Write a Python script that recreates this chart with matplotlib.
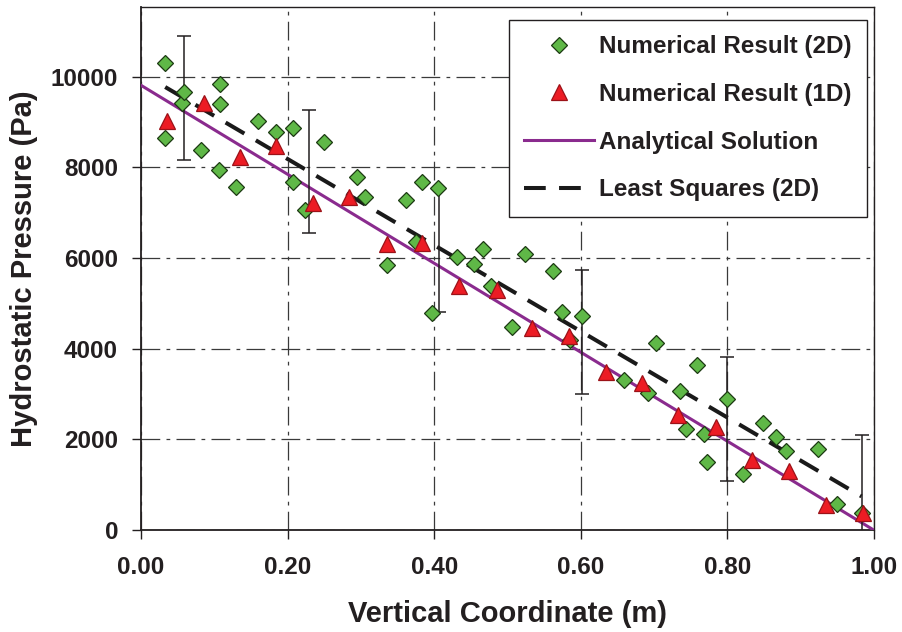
import matplotlib
matplotlib.use("Agg")
import matplotlib.pyplot as plt
from matplotlib.ticker import FixedLocator, FormatStrFormatter

# numerical result, 2D model
x_2d = [0.033, 0.033, 0.056, 0.058, 0.082, 0.106, 0.108, 0.108, 0.129, 0.159,
        0.184, 0.208, 0.208, 0.224, 0.249, 0.295, 0.305, 0.336, 0.362, 0.375,
        0.384, 0.397, 0.405, 0.431, 0.454, 0.466, 0.478, 0.506, 0.524, 0.562,
        0.575, 0.585, 0.601, 0.659, 0.691, 0.702, 0.736, 0.744, 0.758, 0.768,
        0.772, 0.800, 0.821, 0.849, 0.866, 0.880, 0.924, 0.949, 0.983]
p_2d = [10310, 8655, 9410, 9670, 8385, 7945, 9830, 9390, 7575, 9030,
        8775, 8860, 7685, 7060, 8555, 7795, 7355, 5850, 7280, 6360,
        7685, 4785, 7555, 6030, 5865, 6205, 5385, 4485, 6090, 5720,
        4820, 4195, 4725, 3310, 3030, 4135, 3070, 2225, 3645, 2120,
        1510, 2895, 1240, 2370, 2060, 1755, 1785, 580, 385]

# numerical result, 1D model
x_1d = [0.035, 0.086, 0.135, 0.184, 0.235, 0.284, 0.336, 0.384, 0.434, 0.486,
        0.534, 0.584, 0.634, 0.684, 0.733, 0.785, 0.834, 0.884, 0.934, 0.985]
p_1d = [9025, 9425, 8225, 8470, 7210, 7355, 6310, 6325, 5385, 5295,
        4450, 4280, 3495, 3240, 2540, 2280, 1550, 1310, 555, 375]

# analytical solution rho*g*(H - z)
x_an = [0.0, 1.0]
p_an = [9810, 0]

# least squares fit of the 2D results
x_ls = [0.033, 0.983]
p_ls = [9772, 746]

# error bars on the fitted line
x_err = [0.058, 0.229, 0.406, 0.601, 0.800, 0.984]
p_err = [9530, 7910, 6180, 4375, 2450, 735]
d_err = [1365, 1365, 1365, 1365, 1365, 1365]

x_ticks = [0.0, 0.2, 0.4, 0.6, 0.8, 1.0]
y_ticks = [0, 2000, 4000, 6000, 8000, 10000]

ink = "#231f20"
plt.rcParams["font.family"] = ["Liberation Sans", "DejaVu Sans"]
plt.rcParams["font.weight"] = "bold"

fig = plt.figure(figsize=(9.03, 6.32), dpi=100)
ax = fig.add_axes([141 / 903, 1 - 530.2 / 632, 733 / 903, 522.9 / 632])

ax.plot(x_an, p_an, color="#8a2b8e", lw=2.2, zorder=3, label="Analytical Solution")
ax.plot(x_ls, p_ls, color="#1a1a1a", lw=2.9, linestyle=(0, (5.4, 3.3)), zorder=3,
        label="Least Squares (2D)")
ax.errorbar(x_err, p_err, yerr=d_err, fmt="none", ecolor=ink, elinewidth=1.1,
            capsize=5, capthick=1.1, zorder=4)
ax.plot(x_2d, p_2d, linestyle="none", marker="D", markersize=8.5,
        markerfacecolor="#5fb847", markeredgecolor="#1c3a12", markeredgewidth=0.9,
        zorder=5, label="Numerical Result (2D)")
ax.plot(x_1d, p_1d, linestyle="none", marker="^", markersize=11.5,
        markerfacecolor="#ec1c24", markeredgecolor="#9b1218", markeredgewidth=0.9,
        zorder=6, label="Numerical Result (1D)")

ax.set_xlim(0, 1.0)
ax.set_ylim(0, 11530)
ax.xaxis.set_major_locator(FixedLocator(x_ticks))
ax.yaxis.set_major_locator(FixedLocator(y_ticks))
ax.xaxis.set_major_formatter(FormatStrFormatter("%.2f"))
ax.yaxis.set_major_formatter(FormatStrFormatter("%d"))
ax.grid(True, color="#3a3a3a", lw=0.9, linestyle=(0, (15, 5, 3, 5)))
ax.set_axisbelow(True)

for side in ["left", "bottom", "right", "top"]:
    ax.spines[side].set_color(ink)
ax.spines["left"].set_linewidth(1.3)
ax.spines["bottom"].set_linewidth(1.3)
ax.spines["right"].set_linewidth(1.0)
ax.spines["top"].set_linewidth(1.0)

ax.tick_params(axis="both", direction="out", length=6.5, width=1, color=ink,
               labelsize=17.5, labelcolor=ink)
ax.tick_params(axis="x", pad=12)
ax.tick_params(axis="y", pad=10)

ax.set_xlabel("Vertical Coordinate (m)", fontsize=21, fontweight="bold",
              color=ink, labelpad=15)
ax.set_ylabel("Hydrostatic Pressure (Pa)", fontsize=21, fontweight="bold",
              color=ink, labelpad=9)

handles, labels = ax.get_legend_handles_labels()
order = [2, 3, 0, 1]
leg = ax.legend([handles[i] for i in order], [labels[i] for i in order],
                loc="upper right", bbox_to_anchor=(867 / 903, 1 - 20 / 632),
                bbox_transform=fig.transFigure, fontsize=17.5, frameon=True,
                fancybox=False, edgecolor=ink, framealpha=1, borderpad=0.62,
                labelspacing=1.02, handlelength=2.9, handletextpad=0.2,
                borderaxespad=0)
leg.get_frame().set_linewidth(1.0)
for t in leg.get_texts():
    t.set_color(ink)

fig.savefig("out.png", dpi=100)
